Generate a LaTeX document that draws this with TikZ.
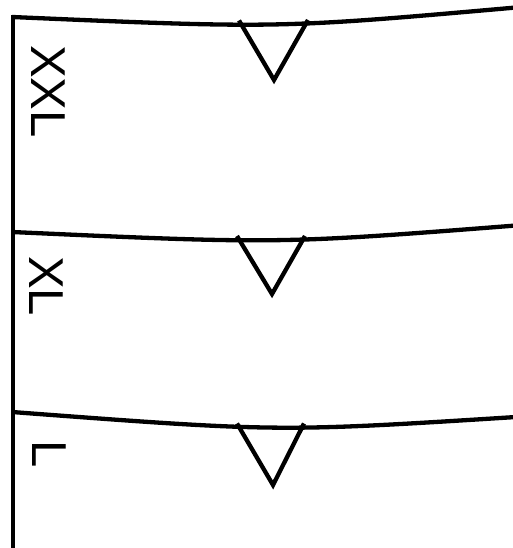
\documentclass[tikz,border=0pt]{standalone}
\usepackage{fontspec}
\setmainfont{Liberation Sans}
\begin{document}
\begin{tikzpicture}[x=1pt,y=-1pt,
  ink/.style={line width=4.3pt,black},
  notch/.style={ink,line join=miter,line cap=butt},
  sizelabel/.style={rotate=-90,anchor=base west,inner sep=0pt,
    font=\fontsize{49}{49}\selectfont}]
\useasboundingbox (0,0) rectangle (513,548);
% coordinates
\coordinate (c1l) at (12,17);   \coordinate (c1r) at (516,7.5);
\coordinate (c2l) at (12,232);  \coordinate (c2r) at (516,225.5);
\coordinate (c3l) at (12,412);  \coordinate (c3r) at (516,417);
\coordinate (vt) at (13,15.5);  \coordinate (vb) at (13,552);
% left edge
\draw[ink] (vt) -- (vb);
% curved bands
\draw[ink] (c1l) .. controls (278,28.5) .. (c1r);
\draw[ink] (c2l) .. controls (278,244) .. (c2r);
\draw[ink] (c3l) .. controls (278,432) .. (c3r);
% notches
\coordinate (t1a) at (239,20.5); \coordinate (t1b) at (274,80); \coordinate (t1c) at (308,20);
\coordinate (t2a) at (237,236);  \coordinate (t2b) at (272,294); \coordinate (t2c) at (305,236);
\coordinate (t3a) at (237,423.5);\coordinate (t3b) at (273,485); \coordinate (t3c) at (304,423.5);
\draw[notch] (t1a) -- (t1b) -- (t1c);
\draw[notch] (t2a) -- (t2b) -- (t2c);
\draw[notch] (t3a) -- (t3b) -- (t3c);
% labels
\node[sizelabel] (xxl) at (31,45) {XXL};
\node[sizelabel] (xl) at (29,256) {XL};
\node[sizelabel] (l) at (32,440) {L};
\end{tikzpicture}
\end{document}
